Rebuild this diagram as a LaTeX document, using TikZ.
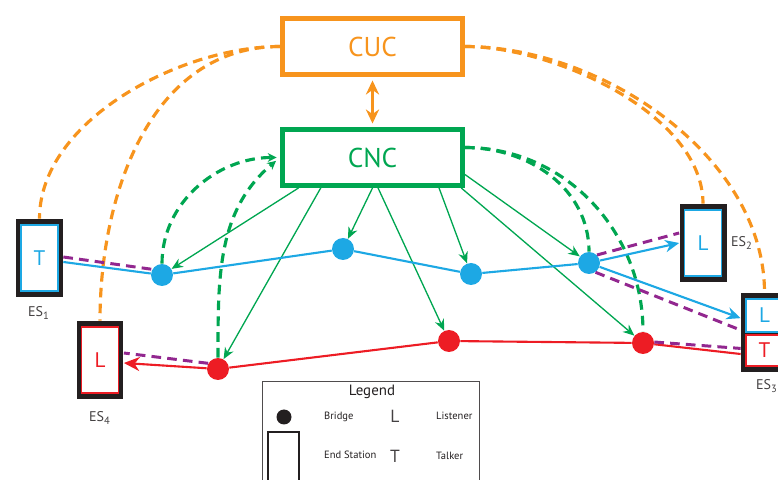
\documentclass[tikz,border=0pt]{standalone}
\usepackage{fontspec}
\setmainfont{PT Sans}
\usetikzlibrary{arrows.meta,calc}
\definecolor{cucorange}{HTML}{F7941D}
\definecolor{cncgreen}{HTML}{00A651}
\definecolor{streamblue}{HTML}{1DA8E4}
\definecolor{streamred}{HTML}{ED1C24}
\definecolor{resvpurple}{HTML}{92278F}
\definecolor{esblack}{HTML}{231F20}
\tikzset{
  ctrlbox/.style={draw=#1, text=#1, line width=2.8pt, minimum width=3.6cm, minimum height=1.12cm, inner sep=0pt, font=\fontsize{15.5}{15.5}\selectfont},
  esframe/.style={fill=esblack, minimum width=0.94cm, minimum height=1.56cm, inner sep=0pt},
  esinner/.style={fill=white, draw=#1, text=#1, line width=1.1pt, minimum width=0.74cm, minimum height=1.32cm, inner sep=0pt, font=\fontsize{12}{12}\selectfont},
  eslabel/.style={text=esblack!85, font=\fontsize{8}{8}\selectfont},
  bridge/.style={circle, fill=#1, minimum size=0.44cm, inner sep=0pt},
  mgmtdash/.style={draw=#1, line width=1.8pt, dash pattern=on 5.5pt off 3.5pt},
  resvdash/.style={draw=resvpurple, line width=1.7pt, dash pattern=on 5.5pt off 3.5pt},
  streamline/.style={draw=#1, line width=1.2pt},
  cfgarrow/.style={draw=cncgreen, line width=0.75pt, -{Stealth[length=6.5pt, width=5.5pt]}},
  legtext/.style={text=esblack, font=\fontsize{6}{6}\selectfont, anchor=west}
}
\begin{document}
\begin{tikzpicture}[x=0.02cm, y=0.02cm]
  \useasboundingbox (0,0) rectangle (778,480);
  \clip (0,0) rectangle (778,480);
  \node[ctrlbox=cucorange] (CUC) at (372.5,433.5) {CUC};
  \node[ctrlbox=cncgreen] (CNC) at (372.5,322.5) {CNC};
  \draw[cucorange, line width=1.2pt, shorten <=2pt, shorten >=2pt, {Stealth[length=8pt, width=7.5pt]}-{Stealth[length=8pt, width=7.5pt]}] (CUC.south) -- (CNC.north);

  \node[esframe] (ES1) at (39.5,222) {};
  \node[esinner=streamblue] (ES1in) at (ES1) {T};
  \node[eslabel] (ES1lab) at (39,167) {ES\textsubscript{1}};
  \node[esframe] (ES4) at (100,120) {};
  \node[esinner=streamred] (ES4in) at (ES4) {L};
  \node[eslabel] (ES4lab) at (100,62) {ES\textsubscript{4}};
  \node[esframe] (ES2) at (703,237) {};
  \node[esinner=streamblue] (ES2in) at (ES2) {L};
  \node[eslabel] (ES2lab) at (742,237) {ES\textsubscript{2}};
  \node[esframe, minimum height=1.58cm] (ES3) at (764.5,147.5) {};
  \node[esinner=streamblue, minimum height=0.66cm] (ES3in1) at (764.5,164.5) {L};
  \node[esinner=streamred, minimum height=0.62cm] (ES3in2) at (764.5,129.5) {T};
  \node[eslabel] (ES3lab) at (767,94) {ES\textsubscript{3}};

  \node[bridge=streamblue] (B1) at (162,205) {};
  \node[bridge=streamblue] (B2) at (343,231) {};
  \node[bridge=streamblue] (B3) at (471,206) {};
  \node[bridge=streamblue] (B4) at (589,217) {};
  \node[bridge=streamred] (R1) at (218,111) {};
  \node[bridge=streamred] (R2) at (449,139) {};
  \node[bridge=streamred] (R3) at (643,137) {};

  \draw[mgmtdash=cucorange] (CUC.west) to[out=180, in=90, looseness=0.85] (ES1.north);
  \draw[mgmtdash=cucorange] (CUC.west) to[out=180, in=90] (ES4.north);
  \draw[mgmtdash=cucorange] (CUC.east) to[out=0, in=90, looseness=0.8] (ES2.north);
  \draw[mgmtdash=cucorange] (CUC.east) to[out=0, in=90, looseness=0.9] (ES3.north);

  \draw[mgmtdash=cncgreen, shorten >=2pt, -{Stealth[length=5pt, width=5pt]}] (B1.north) to[out=90, in=180] (CNC.west);
  \draw[mgmtdash=cncgreen, shorten >=3pt, -{Stealth[length=5pt, width=5pt]}] (R1.north) to[out=90, in=220] (CNC.west);
  \draw[mgmtdash=cncgreen] ($(CNC.east)+(0,10)$) to[out=0, in=90] (B4.north);
  \draw[mgmtdash=cncgreen] ($(CNC.east)+(0,10)$) to[out=0, in=90] (R3.north);

  \draw[cfgarrow] ($(CNC.south west)!0.1!(CNC.south east)$) -- (B1);
  \draw[cfgarrow] ($(CNC.south west)!0.22!(CNC.south east)$) -- (R1);
  \draw[cfgarrow] ($(CNC.south west)!0.5!(CNC.south east)$) -- (B2);
  \draw[cfgarrow] ($(CNC.south west)!0.53!(CNC.south east)$) -- (R2);
  \draw[cfgarrow] ($(CNC.south west)!0.86!(CNC.south east)$) -- (B3);
  \draw[cfgarrow] ($(CNC.south west)!0.98!(CNC.south east)$) -- (R3);
  \draw[cfgarrow] ($(CNC.east)+(0,-17)$) -- (B4);

  \draw[streamline=streamblue] ($(ES1.east)+(0,-4)$) -- (B1) -- (B2) -- (B3) -- (B4);
  \draw[streamline=streamblue, -{Stealth[length=8pt, width=7pt]}] (B4) -- (ES2.west);
  \draw[streamline=streamblue, -{Stealth[length=8pt, width=7pt]}] (B4) -- ($(ES3.north west)!0.32!(ES3.south west)$);
  \draw[streamline=streamred, -{Stealth[length=9pt, width=8pt]}] ($(ES3.north west)!0.77!(ES3.south west)$) -- (R3) -- (R2) -- (R1) -- ($(ES4.east)+(0,-3)$);

  \draw[resvdash] ($(ES1.east)+(0,1)$) -- (B1.150);
  \draw[resvdash] (B4.45) -- ($(ES2.west)+(0,10)$);
  \draw[resvdash] (B4.-55) -- ($(ES3.north west)!0.47!(ES3.south west)$);
  \draw[resvdash] (R3.5) -- ($(ES3.north west)!0.70!(ES3.south west)$);
  \draw[resvdash] (R1.150) -- ($(ES4.east)+(0,7)$);

  \node[draw=esblack!80, line width=0.8pt, anchor=north west, minimum width=4.34cm, minimum height=2.6cm, inner sep=0pt] (legend) at (262,99) {};
  \node[text=esblack, font=\fontsize{8.5}{8.5}\selectfont] (legtitle) at (372,88) {Legend};
  \node[circle, fill=esblack, minimum size=0.3cm, inner sep=0pt] (legbridge) at (284,63) {};
  \node[draw=esblack, line width=1pt, anchor=north, minimum width=0.62cm, minimum height=1.6cm, inner sep=0pt] (leges) at (283.5,49) {};
  \node[legtext] (legbridgetxt) at (318,63) {Bridge};
  \node[text=esblack!85, font=\fontsize{10}{10}\selectfont] (legL) at (395,64) {L};
  \node[legtext] (leglistener) at (430,64) {Listener};
  \node[legtext] (legestxt) at (318,25) {End Station};
  \node[text=esblack!85, font=\fontsize{10}{10}\selectfont] (legT) at (395,24) {T};
  \node[legtext] (legtalker) at (430,24) {Talker};
\end{tikzpicture}
\end{document}
